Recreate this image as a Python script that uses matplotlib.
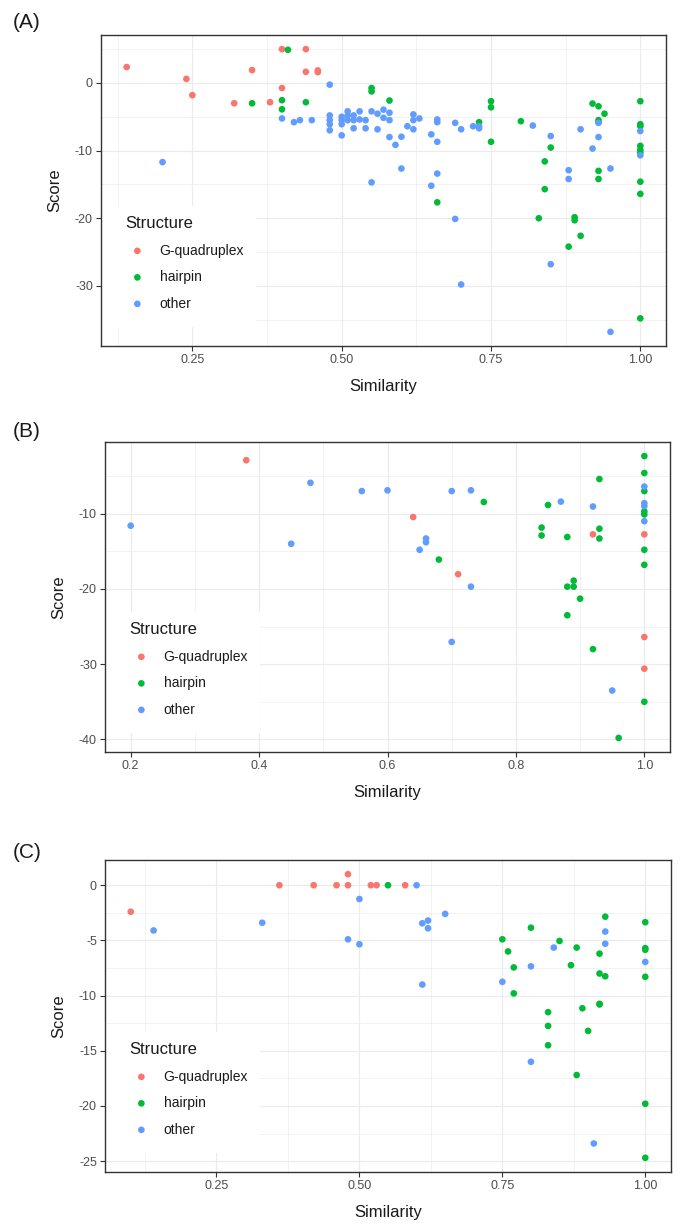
import matplotlib
matplotlib.use("Agg")
import matplotlib.pyplot as plt
from matplotlib.patches import Rectangle

plt.rcParams['font.family'] = ['Liberation Sans', 'DejaVu Sans']
plt.rcParams['axes.unicode_minus'] = False

# ---------------- data ----------------
structures = ["G-quadruplex", "hairpin", "other"]
colors = ["#F8766D", "#00BA38", "#619CFF"]

# Panel A
a_gq_x = [0.14, 0.24, 0.25, 0.32, 0.35, 0.38, 0.40, 0.40, 0.44, 0.44, 0.46, 0.46]
a_gq_y = [2.35, 0.6, -1.8, -3.0, 1.9, -2.85, 5.0, -0.75, 5.0, 1.65, 1.85, 1.6]
a_hp_x = [0.35, 0.41, 0.40, 0.40, 0.44, 0.55, 0.55, 0.58, 0.66, 0.73, 0.75, 0.75, 0.75,
          0.80, 0.83, 0.84, 0.84, 0.85, 0.89, 0.89, 0.92, 0.93, 0.93, 0.93, 0.94, 0.93,
          0.93, 1.00, 1.00, 1.00, 1.00, 1.00, 1.00, 1.00, 1.00, 0.90, 0.88, 1.00]
a_hp_y = [-3.0, 4.9, -2.55, -3.9, -2.85, -0.75, -1.25, -2.6, -17.65, -5.8, -2.7, -3.6, -8.7,
          -5.65, -20.0, -11.6, -15.7, -9.55, -19.85, -20.3, -3.05, -3.45, -5.5, -5.8, -4.55, -13.0,
          -14.2, -2.7, -6.1, -6.4, -9.3, -9.9, -10.3, -14.6, -16.4, -22.6, -24.2, -34.8]
a_ot_x = [0.20, 0.40, 0.42, 0.43, 0.45, 0.48, 0.48, 0.48, 0.48, 0.48, 0.50, 0.50, 0.50, 0.50,
          0.51, 0.51, 0.51, 0.52, 0.52, 0.52, 0.53, 0.53, 0.54, 0.54, 0.55, 0.55, 0.56, 0.56,
          0.57, 0.57, 0.58, 0.58, 0.58, 0.59, 0.60, 0.60, 0.61, 0.62, 0.62, 0.62, 0.63, 0.65,
          0.65, 0.66, 0.66, 0.66, 0.66, 0.69, 0.69, 0.70, 0.72, 0.73, 0.73, 0.82, 0.85, 0.88,
          0.88, 0.90, 0.92, 0.93, 0.93, 0.95, 1.00, 1.00, 0.85, 0.70, 0.95]
a_ot_y = [-11.7, -5.25, -5.8, -5.5, -5.5, -0.25, -4.8, -5.5, -6.1, -7.0, -5.0, -5.5, -6.1, -7.75,
          -4.2, -4.8, -5.5, -4.8, -5.5, -6.7, -4.2, -5.4, -5.5, -6.7, -4.2, -14.7, -4.55, -6.85,
          -3.95, -5.15, -4.4, -5.5, -8.0, -9.15, -7.95, -12.65, -6.4, -4.65, -5.5, -6.85, -5.25, -7.6,
          -15.2, -5.4, -5.8, -8.7, -13.4, -5.9, -20.1, -6.85, -6.4, -6.4, -6.7, -6.3, -7.85, -12.9,
          -14.2, -6.85, -9.7, -5.9, -8.0, -12.65, -7.1, -10.7, -26.8, -29.8, -36.8]

# Panel B
b_gq_x = [0.38, 0.64, 0.71, 0.92, 1.00, 1.00, 1.00]
b_gq_y = [-2.9, -10.45, -18.05, -12.75, -12.75, -26.4, -30.6]
b_hp_x = [0.75, 0.68, 0.85, 0.93, 0.84, 0.84, 0.88, 0.93, 0.93, 0.89, 0.89, 0.88, 0.90, 0.88,
          0.92, 1.00, 1.00, 1.00, 1.00, 1.00, 1.00, 1.00, 1.00, 0.96]
b_hp_y = [-8.45, -16.1, -8.85, -5.4, -11.85, -12.9, -13.1, -12.0, -13.3, -18.9, -19.7, -19.7, -21.3, -23.5,
          -28.0, -2.35, -4.6, -7.0, -9.7, -10.1, -14.8, -16.8, -35.0, -39.8]
b_ot_x = [0.20, 0.45, 0.48, 0.56, 0.60, 0.70, 0.73, 0.66, 0.66, 0.65, 0.73, 0.70, 0.87, 0.92,
          1.00, 1.00, 1.00, 1.00, 0.95]
b_ot_y = [-11.6, -14.0, -5.9, -7.0, -6.9, -7.0, -6.9, -13.3, -13.8, -14.8, -19.7, -27.05, -8.4, -9.05,
          -6.4, -8.6, -9.0, -11.0, -33.5]

# Panel C
c_gq_x = [0.10, 0.36, 0.42, 0.46, 0.48, 0.48, 0.52, 0.53, 0.58]
c_gq_y = [-2.4, 0.0, 0.0, 0.0, 0.0, 1.0, 0.0, 0.0, 0.0]
c_hp_x = [0.55, 0.75, 0.76, 0.77, 0.77, 0.80, 0.85, 0.87, 0.88, 0.92, 0.92, 0.93, 0.93, 1.00,
          1.00, 1.00, 1.00, 0.83, 0.83, 0.83, 0.89, 0.92, 0.92, 0.90, 0.88, 1.00, 1.00]
c_hp_y = [0.0, -4.9, -6.0, -7.45, -9.8, -3.85, -5.05, -7.25, -5.65, -6.2, -8.0, -8.25, -2.85, -3.35,
          -5.7, -5.85, -8.3, -11.5, -12.75, -14.5, -11.15, -10.75, -10.8, -13.2, -17.2, -19.8, -24.7]
c_ot_x = [0.14, 0.33, 0.48, 0.50, 0.50, 0.60, 0.65, 0.61, 0.62, 0.62, 0.61, 0.75, 0.80, 0.84,
          0.93, 0.93, 1.00, 0.80, 0.91]
c_ot_y = [-4.1, -3.4, -4.9, -1.25, -5.35, 0.0, -2.6, -3.45, -3.2, -3.9, -9.0, -8.75, -7.35, -5.65,
          -4.2, -5.3, -6.95, -16.0, -23.4]

# ticks
a_xticks = [0.25, 0.50, 0.75, 1.00]
a_xticklabels = ["0.25", "0.50", "0.75", "1.00"]
a_xminor = [0.125, 0.375, 0.625, 0.875]
a_yticks = [0, -10, -20, -30]
a_yminor = [5, -5, -15, -25, -35]

b_xticks = [0.2, 0.4, 0.6, 0.8, 1.0]
b_xticklabels = ["0.2", "0.4", "0.6", "0.8", "1.0"]
b_xminor = [0.3, 0.5, 0.7, 0.9]
b_yticks = [-10, -20, -30, -40]
b_yminor = [-5, -15, -25, -35]

c_xticks = [0.25, 0.50, 0.75, 1.00]
c_xticklabels = ["0.25", "0.50", "0.75", "1.00"]
c_xminor = [0.125, 0.375, 0.625, 0.875]
c_yticks = [0, -5, -10, -15, -20, -25]
c_yminor = [-2.5, -7.5, -12.5, -17.5, -22.5]

panel_labels = ["(A)", "(B)", "(C)"]

# ---------------- layout (pixels) ----------------
W, H = 685, 1228
fig = plt.figure(figsize=(W / 100, H / 100), dpi=100)

panels = [
    dict(box=(101, 35, 666, 346), lab_y=23,
         data=[(a_gq_x, a_gq_y), (a_hp_x, a_hp_y), (a_ot_x, a_ot_y)],
         xt=a_xticks, xtl=a_xticklabels, xm=a_xminor, yt=a_yticks, ym=a_yminor),
    dict(box=(105, 442, 670, 752), lab_y=432,
         data=[(b_gq_x, b_gq_y), (b_hp_x, b_hp_y), (b_ot_x, b_ot_y)],
         xt=b_xticks, xtl=b_xticklabels, xm=b_xminor, yt=b_yticks, ym=b_yminor),
    dict(box=(105, 860, 671, 1172), lab_y=853,
         data=[(c_gq_x, c_gq_y), (c_hp_x, c_hp_y), (c_ot_x, c_ot_y)],
         xt=c_xticks, xtl=c_xticklabels, xm=c_xminor, yt=c_yticks, ym=c_yminor),
]

grid_col = "#EBEBEB"
border_col = "#333333"

for p, plabel in zip(panels, panel_labels):
    l, t, r, b = p["box"]
    pw, ph = r - l, b - t
    ax = fig.add_axes([l / W, 1 - b / H, pw / W, ph / H])
    handles = []
    allx, ally = [], []
    for (xs, ys), name, col in zip(p["data"], structures, colors):
        h = ax.scatter(xs, ys, s=23, color=col, edgecolors="none", zorder=3, label=name)
        handles.append(h)
        allx += xs
        ally += ys
    xr = max(allx) - min(allx)
    yr = max(ally) - min(ally)
    ax.set_xlim(min(allx) - 0.05 * xr, max(allx) + 0.05 * xr)
    ax.set_ylim(min(ally) - 0.05 * yr, max(ally) + 0.05 * yr)

    ax.set_xticks(p["xt"])
    ax.set_xticklabels(p["xtl"])
    ax.set_xticks(p["xm"], minor=True)
    ax.set_yticks(p["yt"])
    ax.set_yticklabels([str(v) for v in p["yt"]])
    ax.set_yticks(p["ym"], minor=True)
    ax.set_axisbelow(True)
    ax.grid(which="major", color=grid_col, lw=0.85)
    ax.grid(which="minor", color=grid_col, lw=0.45)
    ax.tick_params(which="major", length=3.6, width=0.8, color=border_col,
                   labelsize=9, labelcolor="#4D4D4D", pad=2.2)
    ax.tick_params(which="minor", length=0)
    for sp in ax.spines.values():
        sp.set_color(border_col)
        sp.set_linewidth(1.0)
        sp.set_zorder(6)

    ax.set_xlabel("Similarity", fontsize=12, color="#1A1A1A")
    ax.set_ylabel("Score", fontsize=12, color="#1A1A1A")
    ax.xaxis.set_label_coords(0.5, -33 / ph)
    ax.yaxis.set_label_coords(-39 / pw, 0.5)

    # legend background (inside the panel, bottom-left)
    rect = Rectangle((0, 19 / ph), 155 / pw, 121 / ph, transform=ax.transAxes,
                     facecolor="white", edgecolor="none", zorder=4)
    ax.add_patch(rect)
    leg = ax.legend(handles=handles, title="Structure", loc="upper left",
                    bbox_to_anchor=(24 / pw, 130 / ph), borderaxespad=0, borderpad=0,
                    frameon=False, alignment="left", fontsize=10, title_fontsize=12,
                    handlelength=1.78, handletextpad=0.71, labelspacing=0.9,
                    scatterpoints=1)
    leg.set_zorder(5)
    for txt in leg.get_texts():
        txt.set_color("#1A1A1A")
    leg.get_title().set_color("#1A1A1A")

    fig.text(13 / W, 1 - p["lab_y"] / H, plabel, fontsize=15, ha="left", va="center",
             color="#1A1A1A")

fig.savefig("out.png", dpi=100)
